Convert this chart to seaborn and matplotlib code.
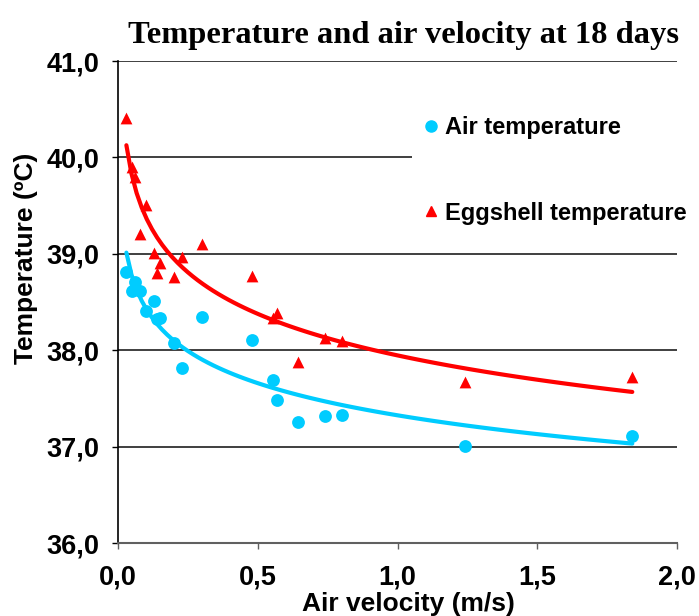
import seaborn as sns
import matplotlib.pyplot as plt
import pandas as pd
from matplotlib.lines import Line2D
from matplotlib.ticker import FuncFormatter

# values
velocity = [0.03, 0.05, 0.06, 0.08, 0.10, 0.13, 0.14, 0.15, 0.20, 0.23,
            0.30, 0.48, 0.555, 0.57, 0.645, 0.74, 0.80, 1.24, 1.84]
air_temp = [38.81, 38.61, 38.71, 38.61, 38.41, 38.51, 38.32, 38.33, 38.07, 37.82,
            38.34, 38.11, 37.69, 37.48, 37.26, 37.32, 37.33, 37.01, 37.11]
eggshell_temp = [40.41, 39.90, 39.80, 39.21, 39.51, 39.01, 38.80, 38.90, 38.76, 38.97,
                 39.10, 38.77, 38.33, 38.39, 37.88, 38.13, 38.10, 37.67, 37.72]
series_names = ["Air temperature", "Eggshell temperature"]
series_colors = ["#00CCFF", "#FF0000"]
series_markers = ["o", "^"]

dfrm = pd.DataFrame({"velocity": velocity, "air": air_temp, "egg": eggshell_temp})

sns.set_style("white")
plt.rcParams['font.family'] = ['Liberation Sans', 'DejaVu Sans']
plt.rcParams['font.weight'] = 'bold'
for key in ['text.color', 'axes.labelcolor', 'xtick.color', 'ytick.color']:
    plt.rcParams[key] = 'black'

fig = plt.figure(figsize=(6.99, 6.16), dpi=100)
ax = fig.add_axes([118/699, 1 - 543/616, 559/699, 482/616])

for col, name, color, mark, size in zip(["air", "egg"], series_names, series_colors,
                                        series_markers, [85, 72]):
    sns.regplot(x="velocity", y=col, data=dfrm, logx=True, ci=None, ax=ax,
                marker=mark, color=color,
                scatter_kws={'s': size, 'linewidths': 0, 'alpha': 1, 'zorder': 4},
                line_kws={'lw': 3, 'zorder': 3})

ax.set_xlim(0, 2)
ax.set_ylim(36, 41)
ax.set_xticks([0, 0.5, 1.0, 1.5, 2.0])
ax.set_yticks([36, 37, 38, 39, 40, 41])
fmt = FuncFormatter(lambda v, pos: "{:.1f}".format(v).replace(".", ","))
ax.xaxis.set_major_formatter(fmt)
ax.yaxis.set_major_formatter(fmt)
ax.yaxis.grid(True, color='#303030', lw=1.3)
ax.set_axisbelow(True)
ax.tick_params(axis='y', direction='out', length=4.5, width=1, color='black',
               labelsize=19.5, pad=9, left=True)
ax.tick_params(axis='x', direction='out', length=4.5, width=1, color='#606060',
               labelsize=19.5, pad=11, bottom=True)
for lab in ax.get_xticklabels() + ax.get_yticklabels():
    lab.set_fontweight('bold')
for lab in ax.get_xticklabels():
    lab.set_x(lab.get_position()[0])

sns.despine(ax=ax)
ax.spines['left'].set_color('black')
ax.spines['left'].set_linewidth(1.2)
ax.spines['bottom'].set_color('#606060')
ax.spines['bottom'].set_linewidth(1.5)

ax.set_xlabel("Air velocity (m/s)", fontsize=19, fontweight='bold', labelpad=1, x=0.52)
ax.set_ylabel("Temperature (ºC)", fontsize=19, fontweight='bold', labelpad=6, y=0.59)
ax.set_title("Temperature and air velocity at 18 days", fontsize=23.4, fontweight='bold',
             family=['Liberation Serif', 'DejaVu Serif'], pad=13, x=0.51)

handles = [Line2D([], [], ls='none', marker=m, color=c, markersize=ms)
           for m, c, ms in zip(series_markers, series_colors, [8, 7.5])]
leg = ax.legend(handles, series_names, loc='upper left', bbox_to_anchor=(0.526, 0.91),
                borderaxespad=0, borderpad=0.5, handlelength=0.6, handletextpad=0.3,
                labelspacing=2.65, fontsize=17, frameon=True, fancybox=False)
leg.get_frame().set_facecolor('white')
leg.get_frame().set_edgecolor('none')
leg.get_frame().set_alpha(1)
for txt in leg.get_texts():
    txt.set_fontweight('bold')

fig.savefig("out.png", dpi=100)
